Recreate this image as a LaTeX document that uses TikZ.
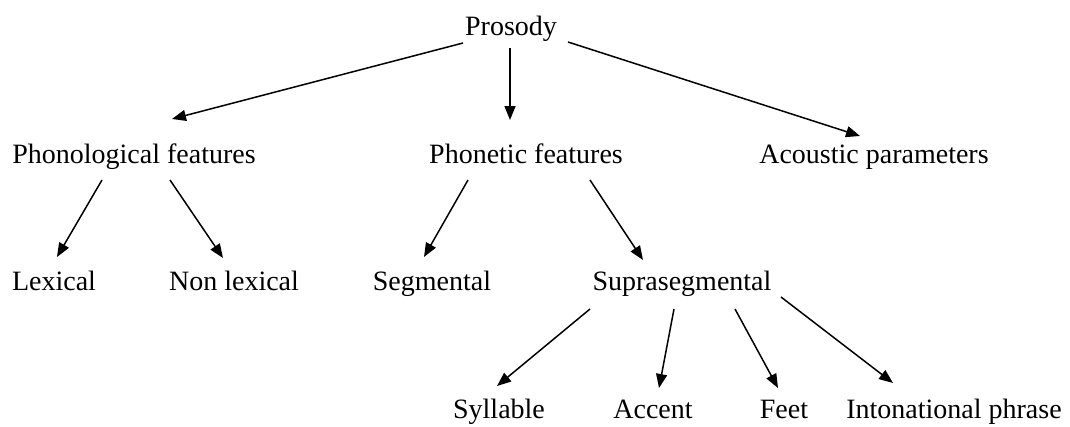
\documentclass[tikz,border=0pt]{standalone}
\usepackage{fontspec}
\setmainfont{Liberation Serif}
\usetikzlibrary{arrows.meta}
\tikzset{
  term/.style={anchor=base, inner sep=0pt, font=\fontsize{28}{33}\selectfont},
  link/.style={line width=1.5pt, -{Triangle[length=14pt,width=11pt]}}
}
\begin{document}
\begin{tikzpicture}[x=1pt,y=-1pt]
\useasboundingbox (0,0) rectangle (1070,426);
% terms
\node[term] (pros) at (511,35) {Prosody};
\node[term] (phon) at (134,163) {Phonological features};
\node[term] (phnt) at (526,163) {Phonetic features};
\node[term] (acou) at (874,163) {Acoustic parameters};
\node[term] (lex)  at (54,290) {Lexical};
\node[term] (nlex) at (234,290) {Non lexical};
\node[term] (seg)  at (432,290) {Segmental};
\node[term] (supr) at (682,290) {Suprasegmental};
\node[term] (syl)  at (499,418) {Syllable};
\node[term] (acc)  at (653,418) {Accent};
\node[term] (feet) at (784,418) {Feet};
\node[term] (into) at (954,418) {Intonational phrase};
% arrow end points
\coordinate (a1) at (463,43);  \coordinate (b1) at (172,119);
\coordinate (a2) at (510,48);  \coordinate (b2) at (510,120);
\coordinate (a3) at (568,42);  \coordinate (b3) at (860,136);
\coordinate (a4) at (102,180); \coordinate (b4) at (57,257);
\coordinate (a5) at (170,180); \coordinate (b5) at (223,258);
\coordinate (a6) at (468,180); \coordinate (b6) at (424,257);
\coordinate (a7) at (590,180); \coordinate (b7) at (643,260);
\coordinate (a8) at (590,309); \coordinate (b8) at (497,386);
\coordinate (a9) at (674,309); \coordinate (b9) at (659,388);
\coordinate (a10) at (735,309); \coordinate (b10) at (778,388);
\coordinate (a11) at (781,297); \coordinate (b11) at (893,383);
% arrows
\draw[link] (a1) -- (b1);
\draw[link] (a2) -- (b2);
\draw[link] (a3) -- (b3);
\draw[link] (a4) -- (b4);
\draw[link] (a5) -- (b5);
\draw[link] (a6) -- (b6);
\draw[link] (a7) -- (b7);
\draw[link] (a8) -- (b8);
\draw[link] (a9) -- (b9);
\draw[link] (a10) -- (b10);
\draw[link] (a11) -- (b11);
\end{tikzpicture}
\end{document}
